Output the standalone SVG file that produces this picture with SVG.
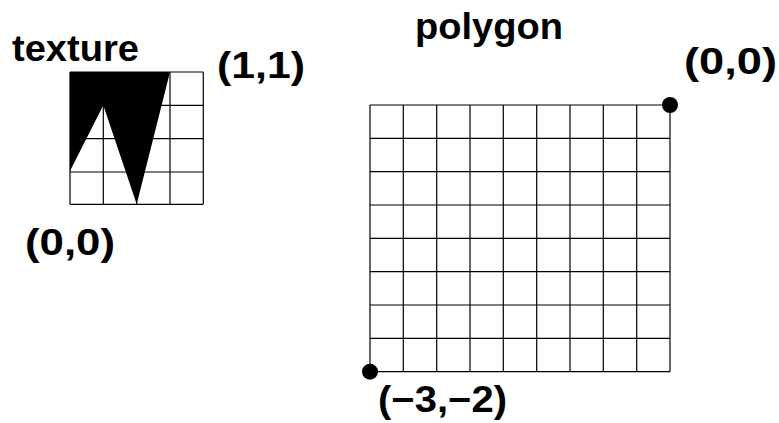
<svg xmlns="http://www.w3.org/2000/svg" width="779" height="423" viewBox="0 0 779 423">
<style>
.t{font-family:"Liberation Sans",Arial,sans-serif;font-weight:bold;font-size:37px;fill:#000}
.g{stroke:#000;stroke-width:1.2;fill:none}
.dot{fill:#000}
</style>
<rect width="779" height="423" fill="#fff"/>
<g id="texture">
<polygon points="70,72 170,72 136.7,204.3 103.3,105.3 70,171" fill="#000"/>
<path class="g" d="M70,72H203.3M70,105.3H203.3M70,138.7H203.3M70,172H203.3M70,204.3H203.3M70,72V204.3M103.3,72V204.3M136.7,72V204.3M170,72V204.3M203.3,72V204.3"/>
<text class="t" x="12" y="61" textLength="127" lengthAdjust="spacingAndGlyphs">texture</text>
<text class="t" x="217" y="78" textLength="88" lengthAdjust="spacingAndGlyphs">(1,1)</text>
<text class="t" x="25" y="255" textLength="90" lengthAdjust="spacingAndGlyphs">(0,0)</text>
</g>
<g id="polygon">
<path class="g" d="M370,105H670M370,138.3H670M370,171.7H670M370,205H670M370,238.3H670M370,271.7H670M370,305H670M370,338.3H670M370,371.7H670M370,105V371.7M403.3,105V371.7M436.7,105V371.7M470,105V371.7M503.3,105V371.7M536.7,105V371.7M570,105V371.7M603.3,105V371.7M636.7,105V371.7M670,105V371.7"/>
<circle class="dot" cx="670" cy="105" r="8"/>
<circle class="dot" cx="370" cy="371.7" r="8"/>
<text class="t" x="415" y="39" textLength="148" lengthAdjust="spacingAndGlyphs">polygon</text>
<text class="t" x="684" y="74" textLength="93" lengthAdjust="spacingAndGlyphs">(0,0)</text>
<text class="t" x="378" y="412" textLength="129" lengthAdjust="spacingAndGlyphs">(−3,−2)</text>
</g>
<g id="connectors"/>
</svg>
